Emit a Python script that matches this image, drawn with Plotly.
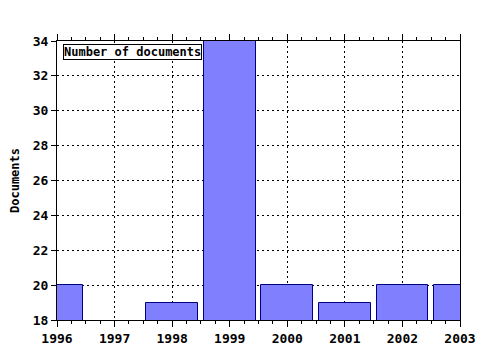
import plotly.graph_objects as go

years = [1996, 1997, 1998, 1999, 2000, 2001, 2002, 2003]
documents = [20, None, 19, 34, 20, 19, 20, 20]
y_ticks = [18, 20, 22, 24, 26, 28, 30, 32, 34]
series_name = "Number of documents"

font_family = "DejaVu Sans Mono"

fig = go.Figure()
fig.add_trace(go.Bar(
    x=years, y=documents, width=0.9,
    marker=dict(color="#8080ff", line=dict(color="#000080", width=1)),
    name=series_name, showlegend=False,
))

fig.add_annotation(
    xref="paper", yref="paper", x=0.015, y=0.99, xanchor="left", yanchor="top",
    text=series_name, showarrow=False,
    font=dict(family=font_family, size=12, color="black", weight="bold"),
    bgcolor="white", bordercolor="black", borderwidth=1, borderpad=0,
)

grid_dash = "2px,3px"

fig.update_layout(
    width=480, height=350,
    margin=dict(l=57, r=20, t=41, b=30),
    paper_bgcolor="white", plot_bgcolor="white",
    bargap=0,
    font=dict(family=font_family, size=12, color="black", weight="bold"),
    xaxis=dict(
        range=[1996, 2003], tickmode="array", tickvals=years,
        ticktext=[str(y) for y in years], automargin=False,
        showline=True, linecolor="black", linewidth=1, mirror="ticks",
        ticks="outside", ticklen=6, tickcolor="black",
        showgrid=True, gridcolor="black", griddash=grid_dash, gridwidth=1,
        minor=dict(dtick=0.25, tick0=1996, ticks="outside", ticklen=3,
                   tickcolor="black", showgrid=False),
        zeroline=False,
        tickfont=dict(family=font_family, size=13, weight="bold"),
    ),
    yaxis=dict(
        range=[18, 34], tickmode="array", tickvals=y_ticks, automargin=False,
        showline=True, linecolor="black", linewidth=1, mirror=True,
        ticks="outside", ticklen=5, tickcolor="black",
        showgrid=True, gridcolor="black", griddash=grid_dash, gridwidth=1,
        zeroline=False,
        title=dict(text="Documents", standoff=10,
                   font=dict(family=font_family, size=12, weight="bold")),
        tickfont=dict(family=font_family, size=13, weight="bold"),
    ),
)

fig.write_html("out.html")
